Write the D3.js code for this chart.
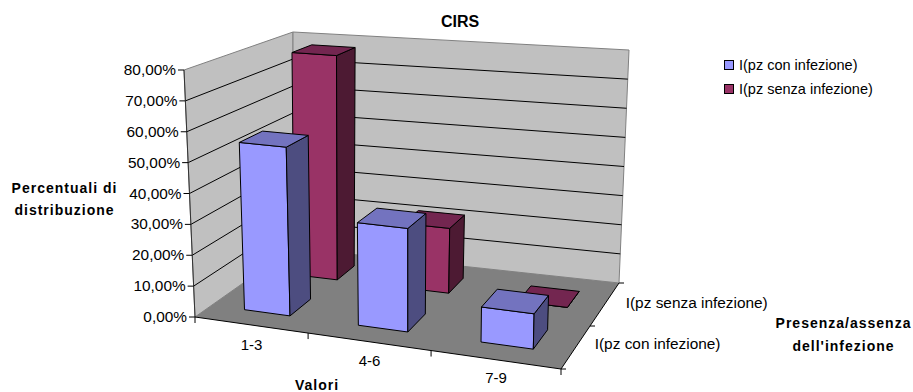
<!DOCTYPE html>
<html>
<head>
<meta charset="utf-8">
<script src="https://cdn.jsdelivr.net/npm/d3@7"></script>
<style>
    body { margin: 0; background: #fff; }
    text { font-family: "Liberation Sans", Arial, sans-serif; font-size: 14.5px; fill: #000; }
    .tick { font-size: 15.4px; }
    .cat { font-size: 15px; }
    .bold { font-weight: bold; font-size: 14px; letter-spacing: 1px; }
    .title { font-weight: bold; font-size: 16px; }
    .ser { font-size: 15.4px; }
</style>
</head>
<body>
<script>
const categories = ['1-3', '4-6', '7-9'];
const seriesNames = ['I(pz con infezione)', 'I(pz senza infezione)'];
const conInfezione = [55, 33, 11];
const senzaInfezione = [78, 22, 0];
const yTicks = [0, 10, 20, 30, 40, 50, 60, 70, 80];

const width = 913, height = 392;

// corners of the 3d box as seen on the picture
const floor = { fl: [195, 317], fr: [561, 369], br: [619, 283], bl: [293, 248] };
const ceil = { fl: [184, 70], fr: [568, 105], br: [629, 50], bl: [293, 32] };

const lerp = (a, b, t) => a + (b - a) * t;
const lerp2 = (a, b, t) => [lerp(a[0], b[0], t), lerp(a[1], b[1], t)];

const uScale = d3.scaleLinear().domain([0, 1, 2, 3]).range([0, 0.309, 0.645, 1]);
const vScale = d3.scaleBand().domain([0, 1]).range([0, 1]).paddingInner(0.6).paddingOuter(0.3).align(0.57);
const hScale = d3.scaleLinear().domain([0, 80]).range([0, 1]);

// category position, depth 0..1, value -> screen
const project = (c, v, val) => {
    const u = uScale(c), h = hScale(val);
    const base = lerp2(lerp2(floor.fl, floor.fr, u), lerp2(floor.bl, floor.br, u), v);
    const top = lerp2(lerp2(ceil.fl, ceil.fr, u), lerp2(ceil.bl, ceil.br, u), v);
    return lerp2(base, top, h);
};

const pathOf = pts => 'M' + pts.map(p => p.join(',')).join('L') + 'Z';
const fmt = d3.formatLocale({ decimal: ',', thousands: '.', grouping: [3], currency: ['', '€'] }).format('.2f');

const svg = d3.select('body').append('svg')
    .attr('width', width)
    .attr('height', height);

// walls and floor
svg.append('path')
    .attr('d', pathOf([project(0, 0, 0), project(0, 0, 80), project(0, 1, 80), project(0, 1, 0)]))
    .attr('fill', '#c0c0c0').attr('stroke', '#808080');
svg.append('path')
    .attr('d', pathOf([project(0, 1, 0), project(0, 1, 80), project(3, 1, 80), project(3, 1, 0)]))
    .attr('fill', '#c0c0c0').attr('stroke', '#808080');
svg.append('path')
    .attr('d', pathOf([project(0, 0, 0), project(3, 0, 0), project(3, 1, 0), project(0, 1, 0)]))
    .attr('fill', '#808080');

// gridlines
svg.selectAll('.grid')
    .data(yTicks.slice(1, -1))
    .join('path')
        .attr('class', 'grid')
        .attr('d', d => 'M' + [project(0, 0, d), project(0, 1, d), project(3, 1, d)].map(p => p.join(',')).join('L'))
        .attr('fill', 'none')
        .attr('stroke', '#000');

// axes lines
const line = (a, b, stroke = '#000') => svg.append('line')
    .attr('x1', a[0]).attr('y1', a[1]).attr('x2', b[0]).attr('y2', b[1]).attr('stroke', stroke);

line(project(0, 0, 0), project(0, 0, 80), '#333');
line(project(0, 0, 0), project(3, 0, 0));
line(project(3, 0, 0), project(3, 1, 0));

yTicks.forEach(t => {
    const p = project(0, 0, t);
    line(p, [p[0] - 6, p[1]]);
    svg.append('text').attr('class', 'tick').attr('x', p[0] - 8).attr('y', p[1] + 5).attr('text-anchor', 'end').text(fmt(t) + '%');
});

d3.range(0, 4).forEach(c => {
    const p = project(c, 0, 0);
    line(p, [p[0], p[1] + 6]);
});
[0, 0.5, 1].forEach(v => {
    const p = project(3, v, 0);
    line(p, [p[0] + 5, p[1]]);
});

// bars, back row first
const barLo = 0.32, barHi = 0.73;
const colors = [
    { front: '#9999ff', side: '#4d4d80', top: '#7373bf' },
    { front: '#993366', side: '#4d1a33', top: '#732650' }
];
// blue row sits a bit to the left and goes a bit deeper than the band
const rows = [
    { row: 1, values: senzaInfezione, du: 0, dv: -0.01 },
    { row: 0, values: conInfezione, du: -0.025, dv: 0.03 }
];

rows.forEach(({ row, values, du, dv }) => {
    const v0 = vScale(row), v1 = v0 + vScale.bandwidth() + dv;
    const c = colors[row];
    const bars = svg.append('g').selectAll('g')
        .data(values)
        .join('g')
            .attr('stroke', '#000')
            .attr('stroke-linejoin', 'round');
    const u0 = i => i + barLo + du, u1 = i => i + barHi + du;
    bars.append('path')
        .attr('d', (d, i) => pathOf([project(u0(i), v0, 0), project(u1(i), v0, 0), project(u1(i), v0, d), project(u0(i), v0, d)]))
        .attr('fill', c.front);
    bars.append('path')
        .attr('d', (d, i) => pathOf([project(u1(i), v0, 0), project(u1(i), v1, 0), project(u1(i), v1, d), project(u1(i), v0, d)]))
        .attr('fill', c.side);
    bars.append('path')
        .attr('d', (d, i) => pathOf([project(u0(i), v0, d), project(u1(i), v0, d), project(u1(i), v1, d), project(u0(i), v1, d)]))
        .attr('fill', c.top);
});

// category labels
svg.selectAll('.cat')
    .data(categories)
    .join('text')
        .attr('class', 'cat')
        .attr('text-anchor', 'middle')
        .attr('x', (d, i) => project(i + 0.5, 0, 0)[0])
        .attr('y', (d, i) => project(i + 0.5, 0, 0)[1] + 25 - i)
        .text(d => d);

// series labels on the depth axis
svg.selectAll('.ser')
    .data(seriesNames)
    .join('text')
        .attr('class', 'ser')
        .attr('x', (d, i) => project(3, vScale(i) + vScale.bandwidth() / 2, 0)[0] + 18 + 2 * i)
        .attr('y', (d, i) => project(3, vScale(i) + vScale.bandwidth() / 2, 0)[1] + 3 + 2 * i)
        .text(d => d);

// titles
const label = (lines, x, y, dy = 20, cls = 'bold') => lines.forEach((t, i) => svg.append('text')
    .attr('class', cls).attr('text-anchor', 'middle')
    .attr('x', x).attr('y', y + i * dy).text(t));

label(['CIRS'], 460, 27, 0, 'title');
label(['Percentuali di', 'distribuzione'], 64.5, 193, 22);
label(['Valori'], 317, 390);
label(['Presenza/assenza', "dell'infezione"], 843.5, 328, 23);

// legend
const legend = svg.selectAll('.legend')
    .data(seriesNames)
    .join('g')
        .attr('class', 'legend')
        .attr('transform', (d, i) => `translate(724, ${60 + i * 24})`);
legend.append('rect')
    .attr('x', 0.5).attr('y', 0.5).attr('width', 9).attr('height', 9)
    .attr('fill', (d, i) => colors[i].front)
    .attr('stroke', '#000');
legend.append('text').attr('x', 15).attr('y', 10).text(d => d);
</script>
</body>
</html>
